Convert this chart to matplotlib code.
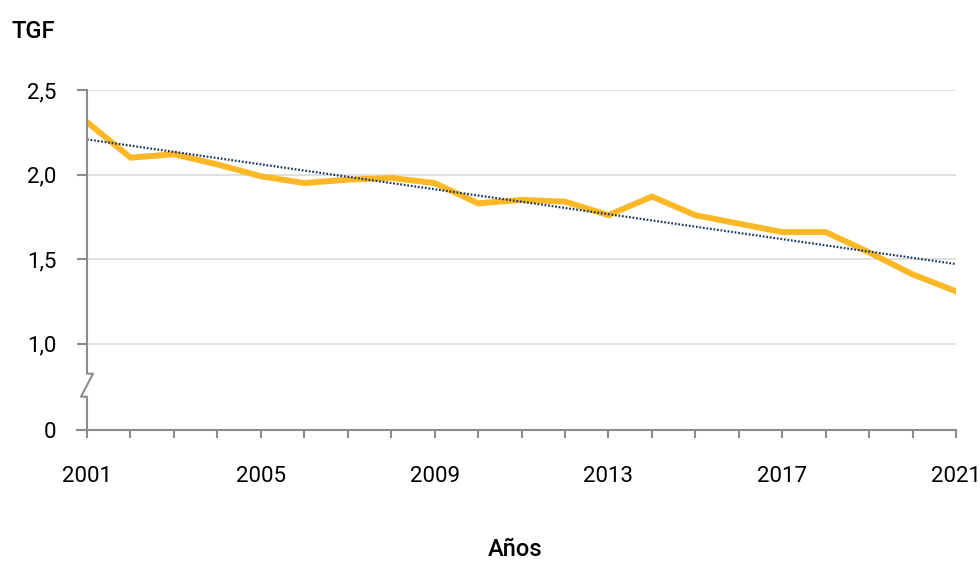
import numpy as np
import matplotlib
matplotlib.use('Agg')
import matplotlib.pyplot as plt
import matplotlib.transforms as mtransforms

plt.rcParams['font.family'] = ['Roboto', 'DejaVu Sans']

# datos
anios = list(range(2001, 2022))
tgf = [2.31, 2.10, 2.12, 2.06, 1.99, 1.95, 1.97, 1.98, 1.95, 1.83, 1.85,
       1.84, 1.76, 1.87, 1.76, 1.71, 1.66, 1.66, 1.54, 1.41, 1.31]
etiquetasX = ['2001', '2005', '2009', '2013', '2017', '2021']
valoresY = [1.0, 1.5, 2.0, 2.5]
etiquetasY = ['0', '1,0', '1,5', '2,0', '2,5']

# eje cortado: el 0 se dibuja por debajo del 1,0
posCero = 0.49
tam = 16

fig = plt.figure(figsize=(9.8, 5.67), dpi=100)
ax = fig.add_axes([87/980, 1-430/567, 869/980, 340/567])

gris = '#8c8c8c'
for v in valoresY:
    ax.axhline(v, color='#d9d9d9', lw=1.2, zorder=1)

ax.plot(anios, tgf, color='#FDB827', lw=4.3, solid_joinstyle='miter', zorder=3)

# linea de tendencia lineal
coef = np.polyfit(anios, tgf, 1)
tend = np.polyval(coef, anios)
ax.plot(anios, tend, color='#1A3A66', lw=1.6, ls=(0, (0.8, 0.8)), zorder=4)

ax.set_xlim(2001, 2021)
ax.set_ylim(posCero, 2.5)
ax.set_xticks(anios)
ax.set_xticklabels([str(a) if str(a) in etiquetasX else '' for a in anios])
ax.set_yticks([posCero] + valoresY)
ax.set_yticklabels(etiquetasY)

for s in ['top', 'right', 'left']:
    ax.spines[s].set_visible(False)
ax.spines['bottom'].set_color(gris)
ax.spines['bottom'].set_linewidth(1.5)
ax.spines['bottom'].set_bounds(2001 - 10/43.45, 2021)

ax.tick_params(axis='x', length=6, width=1.5, color=gris, pad=20, labelsize=tam)
ax.tick_params(axis='y', length=7, width=1.5, color=gris, pad=15, labelsize=tam)

# eje y con simbolo de corte
tr = mtransforms.blended_transform_factory(ax.transAxes, ax.transData)
dx = 6/869
yb1 = 1.0 - 30/169.3
yb2 = 1.0 - 53/169.3
ax.plot([0, 0, dx, -dx, 0, 0], [2.5, yb1, yb1, yb2, yb2, posCero],
        color=gris, lw=1.5, transform=tr, clip_on=False, zorder=5)

fig.text(33/980, 1-32/567, 'TGF', fontsize=17, fontweight='medium', ha='center', va='center')
fig.text(515/980, 1-550/567, 'Años', fontsize=17, fontweight='medium', ha='center', va='center')

fig.savefig('out.png', dpi=100)
